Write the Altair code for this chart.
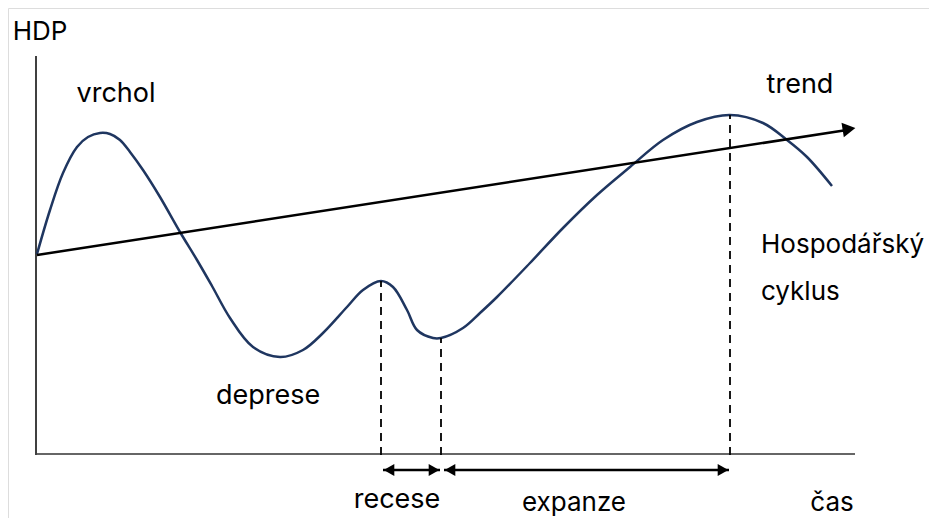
import altair as alt
import pandas as pd

# --- data (units: t = time from origin, h = HDP level above the time axis) ---
curve_t = [0, 13, 26, 40, 51, 63, 73, 83, 93, 106, 123, 143, 160, 175, 193, 216, 243, 266, 286, 310, 326, 344,
           356, 370, 380, 396, 404, 426, 443, 460, 493, 526, 560, 593, 626, 660, 693, 726, 750, 770, 795]
curve_h = [201, 245, 282, 308, 318, 322, 321, 315, 303, 285, 258, 223, 195, 169, 137, 108, 98, 105, 122, 148, 165, 174,
           168, 145, 125, 117, 117, 127, 142, 158, 192, 227, 260, 288, 315, 333, 340, 332, 315, 298, 269]

trend_t = [0, 810]
trend_h = [200, 325]
trend_head = (812, 326)

dash_t = [344, 404, 693]
dash_top = [174, 117, 340]

arrow_from = [346, 407]
arrow_to = [403, 692]
arrow_level = -15

labels = ["HDP", "vrchol", "trend", "Hospodářský", "cyklus", "deprese", "recese", "expanze", "čas"]
label_t = [3, 79, 763, 724, 724, 231, 360, 537, 795]
label_h = [415, 353, 362, 202, 155, 51, -53, -56, -56]
label_align = ["center", "center", "center", "left", "left", "center", "center", "center", "center"]
label_size = [26, 27, 27, 26, 26, 27, 27, 26, 26]

FONT = "Inter"
xs = alt.Scale(domain=[-29, 892], nice=False, zero=False)
ys = alt.Scale(domain=[-63, 447], nice=False, zero=False)
X = lambda f: alt.X(f, type="quantitative", scale=xs, axis=None)
Y = lambda f: alt.Y(f, type="quantitative", scale=ys, axis=None)

# axes
yaxis = alt.Chart(pd.DataFrame({"t": [-1], "h0": [0], "h1": [399]})).mark_rule(
    color="black", strokeWidth=1.5).encode(x=X("t"), y=Y("h0"), y2="h1")
xaxis = alt.Chart(pd.DataFrame({"t0": [0], "t1": [818], "h": [1]})).mark_rule(
    color="#666666", strokeWidth=2).encode(x=X("t0"), x2="t1", y=Y("h"))

curve = alt.Chart(pd.DataFrame({"t": curve_t, "h": curve_h})).mark_line(
    color="#1f3660", strokeWidth=2.5, interpolate="catmull-rom").encode(x=X("t"), y=Y("h"))

trend = alt.Chart(pd.DataFrame({"t": trend_t, "h": trend_h})).mark_line(
    color="black", strokeWidth=2.5).encode(x=X("t"), y=Y("h"))
trend_arrow = alt.Chart(pd.DataFrame({"t": [trend_head[0]], "h": [trend_head[1]]})).mark_point(
    shape="triangle-right", filled=True, color="black", opacity=1, size=220, angle=351).encode(
    x=X("t"), y=Y("h"))

dashes = alt.Chart(pd.DataFrame({"t": dash_t, "top": dash_top, "bot": [0, 0, 0]})).mark_rule(
    color="black", strokeWidth=1.8, strokeDash=[8, 6]).encode(x=X("t"), y=Y("bot"), y2="top")

arr_df = pd.DataFrame({"a": arrow_from, "b": arrow_to, "h": [arrow_level] * 2})
arr_lines = alt.Chart(arr_df).mark_rule(color="black", strokeWidth=2.5).encode(
    x=X("a"), x2="b", y=Y("h"))
left_heads = alt.Chart(pd.DataFrame({"t": [a + 6 for a in arrow_from], "h": [arrow_level] * 2})).mark_point(
    shape="triangle-left", filled=True, color="black", opacity=1, size=150).encode(x=X("t"), y=Y("h"))
right_heads = alt.Chart(pd.DataFrame({"t": [b - 6 for b in arrow_to], "h": [arrow_level] * 2})).mark_point(
    shape="triangle-right", filled=True, color="black", opacity=1, size=150).encode(x=X("t"), y=Y("h"))

lab_df = pd.DataFrame({"txt": labels, "t": label_t, "h": label_h, "al": label_align, "fs": label_size})
texts_c = alt.Chart(lab_df[lab_df.al == "center"]).mark_text(
    font=FONT, color="black", align="center", baseline="alphabetic").encode(
    x=X("t"), y=Y("h"), text="txt:N", size=alt.Size("fs:Q", scale=None, legend=None))
texts_l = alt.Chart(lab_df[lab_df.al == "left"]).mark_text(
    font=FONT, color="black", align="left", baseline="alphabetic").encode(
    x=X("t"), y=Y("h"), text="txt:N", size=alt.Size("fs:Q", scale=None, legend=None))

chart = alt.layer(yaxis, xaxis, curve, trend, trend_arrow, dashes, arr_lines, left_heads, right_heads,
                  texts_c, texts_l).properties(
    width=921, height=510, padding=0, autosize=alt.AutoSizeParams(type="none")
).configure_view(stroke=None).configure(background="white")

chart.save("out.html", embed_options={"renderer": "svg", "actions": False})
